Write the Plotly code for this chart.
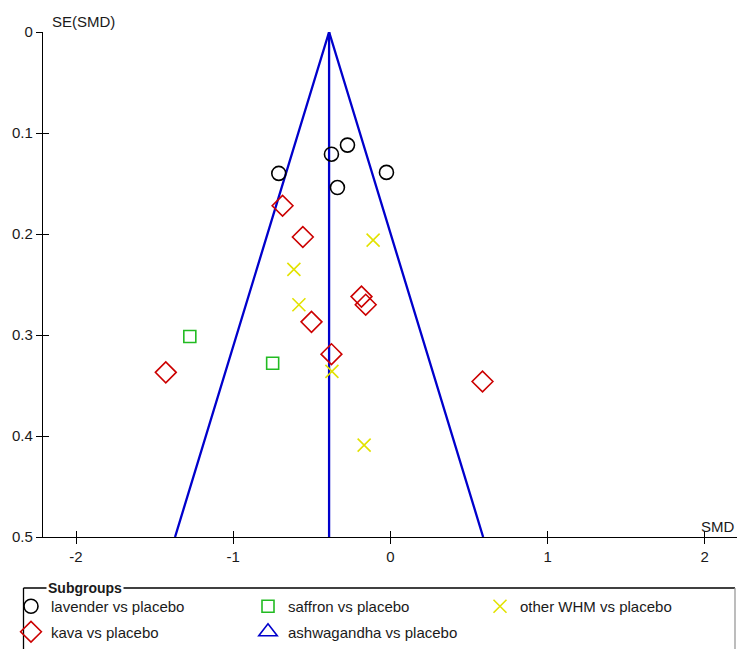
import plotly.graph_objects as go

# Study estimates by subgroup: SMD (x) and SE(SMD) (y)
lavender_smd = [-0.71, -0.375, -0.273, -0.025, -0.337]
lavender_se = [0.140, 0.121, 0.112, 0.139, 0.154]

kava_smd = [-0.686, -0.557, -0.184, -0.157, -0.502, -0.375, -1.429, 0.586]
kava_se = [0.172, 0.203, 0.262, 0.270, 0.287, 0.319, 0.337, 0.346]

saffron_smd = [-1.276, -0.749]
saffron_se = [0.3015, 0.328]

other_smd = [-0.110, -0.614, -0.582, -0.372, -0.167]
other_se = [0.206, 0.235, 0.270, 0.336, 0.409]

ashwagandha_smd = []
ashwagandha_se = []

pooled_smd = -0.39
se_max = 0.5
z = 1.96

x_ticks = [-2, -1, 0, 1, 2]
x_tick_text = ["-2", "-1", "0", "1", "2"]
y_ticks = [0, 0.1, 0.2, 0.3, 0.4, 0.5]
y_tick_text = ["0", "0.1", "0.2", "0.3", "0.4", "0.5"]

FONT = "Liberation Sans, Arial, sans-serif"
TEXT = "#1a1a1a"
BLUE = "#0000cc"

fig = go.Figure()

# Funnel: pseudo 95% limits and the pooled estimate
fig.add_trace(go.Scatter(
    x=[pooled_smd - z * se_max, pooled_smd, pooled_smd + z * se_max],
    y=[se_max, 0, se_max],
    mode="lines", line=dict(color=BLUE, width=2.3),
    showlegend=False, hoverinfo="skip",
))
fig.add_trace(go.Scatter(
    x=[pooled_smd, pooled_smd], y=[0, se_max],
    mode="lines", line=dict(color=BLUE, width=2.3),
    showlegend=False, hoverinfo="skip",
))

# name, x, y, symbol, colour, size, legend column
groups = [
    ("lavender vs placebo", lavender_smd, lavender_se, "circle-open", "#000000", 14, "legend"),
    ("kava vs placebo", kava_smd, kava_se, "diamond-open", "#cc0000", 16, "legend"),
    ("saffron vs placebo", saffron_smd, saffron_se, "square-open", "#22bb22", 12, "legend2"),
    ("ashwagandha vs placebo", ashwagandha_smd, ashwagandha_se, "triangle-up-open", BLUE, 16, "legend2"),
    ("other WHM vs placebo", other_smd, other_se, "x-thin-open", "#e2e200", 13, "legend3"),
]
for name, xs, ys, sym, col, size, leg in groups:
    fig.add_trace(go.Scatter(
        x=xs if xs else [None], y=ys if ys else [None],
        mode="markers", name=name, legend=leg, legendgroup=name,
        marker=dict(symbol=sym, size=size, color=col,
                    line=dict(color=col, width=1.6)),
    ))

# Helper trace so the overlaid tick axes are drawn
fig.add_trace(go.Scatter(x=[None], y=[None], xaxis="x2", yaxis="y2",
                         showlegend=False, hoverinfo="skip"))

x_range = [-2.21, 2.205]
y_range = [0.5, 0]

axis_common = dict(showgrid=False, zeroline=False, tickcolor="black",
                   tickwidth=1.3, ticklen=6,
                   tickfont=dict(family=FONT, size=15, color=TEXT))

px_x = lambda p: (p - 43) / 694
px_y = lambda p: (537 - p) / 505

legend_common = dict(orientation="v", xanchor="left", yanchor="top",
                     y=px_y(590), traceorder="grouped", tracegroupgap=3,
                     font=dict(family=FONT, size=15, color=TEXT),
                     bgcolor="rgba(0,0,0,0)", itemclick=False)

fig.update_layout(
    width=737, height=649,
    margin=dict(l=43, r=0, t=32, b=112, autoexpand=False),
    paper_bgcolor="white", plot_bgcolor="white",
    font=dict(family=FONT, size=15, color=TEXT),
    xaxis=dict(range=x_range, tickvals=x_ticks, ticktext=x_tick_text,
               ticks="outside", showline=True, linecolor="black",
               linewidth=1.3, anchor="y", **axis_common),
    yaxis=dict(range=y_range, tickvals=y_ticks, ticktext=y_tick_text,
               ticks="outside", showline=True, linecolor="black",
               linewidth=1.3, anchor="x", **axis_common),
    xaxis2=dict(range=x_range, tickvals=x_ticks, ticks="inside",
                overlaying="x", anchor="y", showticklabels=False,
                showline=False, showgrid=False, zeroline=False,
                tickcolor="black", tickwidth=1.3, ticklen=6),
    yaxis2=dict(range=y_range, tickvals=y_ticks, ticks="inside",
                overlaying="y", anchor="x", showticklabels=False,
                showline=False, showgrid=False, zeroline=False,
                tickcolor="black", tickwidth=1.3, ticklen=6),
    legend=dict(x=px_x(11), **legend_common),
    legend2=dict(x=px_x(248), **legend_common),
    legend3=dict(x=px_x(480), **legend_common),
    showlegend=True,
)

# Axis titles
fig.add_annotation(text="SE(SMD)", xref="paper", yref="paper",
                   x=0.01, y=1.0, xanchor="left", yanchor="bottom",
                   showarrow=False, font=dict(family=FONT, size=15, color=TEXT))
fig.add_annotation(text="SMD", xref="paper", yref="paper",
                   x=1.0, y=0.0, xanchor="right", yanchor="bottom",
                   showarrow=False, font=dict(family=FONT, size=15, color=TEXT))

# Legend frame with its caption on the top edge
fig.add_shape(type="line", xref="paper", yref="paper",
              x0=px_x(23.5), x1=px_x(735), y0=px_y(588), y1=px_y(588),
              line=dict(color="black", width=1.3))
fig.add_shape(type="line", xref="paper", yref="paper",
              x0=px_x(23.5), x1=px_x(23.5), y0=px_y(588), y1=px_y(670),
              line=dict(color="black", width=1.3))
fig.add_shape(type="line", xref="paper", yref="paper",
              x0=px_x(735), x1=px_x(735), y0=px_y(588), y1=px_y(670),
              line=dict(color="#999999", width=1.3))
fig.add_annotation(text="<b>Subgroups</b>", xref="paper", yref="paper",
                   x=px_x(46), y=px_y(588), xanchor="left", yanchor="middle",
                   showarrow=False, bgcolor="white", borderpad=1,
                   font=dict(family=FONT, size=14, color=TEXT))

fig.write_html("out.html")
